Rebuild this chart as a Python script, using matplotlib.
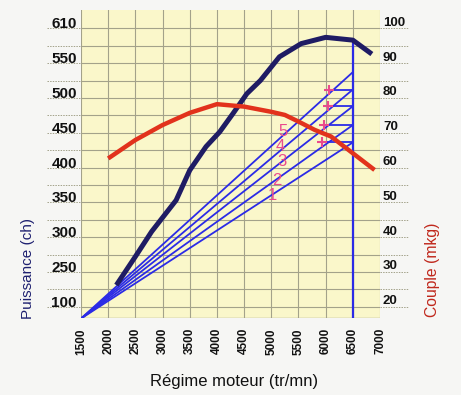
import numpy as np
import matplotlib
matplotlib.use('Agg')
import matplotlib.pyplot as plt
from matplotlib import transforms as mtransforms

plt.rcParams['font.family'] = ['Liberation Sans', 'DejaVu Sans']

# ---------------- data ----------------
x_ticks = [1500, 2000, 2500, 3000, 3500, 4000, 4500, 5000, 5500, 6000, 6500, 7000]

power_rpm = [2150, 2500, 2800, 3250, 3500, 3800, 4050, 4300, 4550, 4800, 5150, 5550, 6000, 6500, 6850]
power_ch = [231, 272, 308, 353, 396, 430, 451, 478, 506, 525, 559, 578, 587, 583, 563]

torque_rpm = [2000, 2500, 3000, 3500, 4000, 4500, 5000, 5250, 5500, 5800, 6100, 6500, 6900]
torque_mkg = [62.6, 67.9, 72.2, 75.7, 78.2, 77.5, 76.0, 75.1, 73.2, 70.8, 68.9, 64.1, 59.3]

gears = ['1', '2', '3', '4', '5']
gear_start_rpm = 1500
gear_start_ch = 183
gear_end_rpm = 6500
gear_end_ch = [436, 461, 488, 512, 537]
shift_rpm = [5930, 5965, 6035, 6055]          # '+' marks (upshift 1>2 ... 4>5)
gear_label_rpm = [5013, 5105, 5198, 5167, 5222]
gear_label_ch = [360, 382, 408, 430, 452]

power_tick_pos = [600, 550, 500, 450, 400, 350, 300, 250, 200]
power_tick_labels = ['610', '550', '500', '450', '400', '350', '300', '250', '100']
torque_ticks = [100, 90, 80, 70, 60, 50, 40, 30, 20]

# ---------------- styling ----------------
bg = '#f6f6f4'
plot_bg = '#faf7ca'
grid_c = '#a3a28a'
navy = '#1f1c64'
red = '#e2321c'
blue = '#2b2be6'
pink = '#ea4a8c'

fig = plt.figure(figsize=(4.61, 3.95), dpi=100, facecolor=bg)
ax = fig.add_axes([0.1757, 0.1941, 0.6486, 0.7806])
ax.set_facecolor(plot_bg)

ch_lo, ch_hi = 183.3, 626.3
ax.set_xlim(1500, 7000)
ax.set_ylim(ch_lo, ch_hi)
ax2 = ax.twinx()
ax2.set_ylim((ch_lo - 100) / 5, (ch_hi - 100) / 5)

for a in (ax, ax2):
    for s in a.spines.values():
        s.set_visible(False)
    a.set_yticks([])
ax.tick_params(axis='x', length=0, pad=7)

# grid
for xv in x_ticks:
    ax.axvline(xv, color=grid_c, lw=0.8, zorder=1)
grid_levels = np.arange(200, 601, 25)
for yv in grid_levels:
    ax.axhline(yv, color=grid_c, lw=0.8, zorder=1)
ax.axhline(ch_lo, color=grid_c, lw=1.0, zorder=1)

blend = mtransforms.blended_transform_factory(ax.transAxes, ax.transData)
for yv in grid_levels:
    ax.plot([-0.115, 0], [yv, yv], transform=blend, clip_on=False,
            color=grid_c, lw=0.7, ls=(0, (1.5, 1.2)), zorder=1)
    ax.plot([1.0, 1.095], [yv, yv], transform=blend, clip_on=False,
            color=grid_c, lw=0.7, ls=(0, (1.5, 1.2)), zorder=1)

# tick labels
ax.set_xticks(x_ticks)
ax.set_xticklabels([str(v) for v in x_ticks], rotation=90, fontsize=8.5,
                   fontweight='bold', color='#111111')
for pos, lab in zip(power_tick_pos, power_tick_labels):
    ax.text(-0.014, pos, lab, transform=blend, ha='right', va='baseline',
            fontsize=11, fontweight='bold', color='#111111')
blend2 = mtransforms.blended_transform_factory(ax2.transAxes, ax2.transData)
off2 = mtransforms.offset_copy(blend2, fig=fig, y=2.5, units='dots')
for v in torque_ticks:
    ax2.text(1.01, v, str(v), transform=off2, ha='left', va='baseline',
             fontsize=9.5, fontweight='bold', color='#111111')

# gear fan lines
for end in gear_end_ch:
    ax.plot([gear_start_rpm, gear_end_rpm], [gear_start_ch, end], color=blue,
            lw=1.3, zorder=3, solid_capstyle='round')
# shift lines and marks
for k, sr in enumerate(shift_rpm):
    ax.plot([sr, gear_end_rpm], [gear_end_ch[k], gear_end_ch[k]], color=blue,
            lw=1.3, zorder=3)
    ax.plot(sr, gear_end_ch[k], marker='+', ms=7, mew=1.5, color=pink, zorder=6)
# vertical red-line
p6500 = np.interp(gear_end_rpm, power_rpm, power_ch)
ax.plot([gear_end_rpm, gear_end_rpm], [ch_lo, p6500], color=blue, lw=1.6, zorder=3)

# gear numbers
for g, gx, gy in zip(gears, gear_label_rpm, gear_label_ch):
    ax.text(gx, gy, g, color=pink, fontsize=12, ha='center', va='center', zorder=6)

# curves
ax.plot(power_rpm, power_ch, color=navy, lw=3.6, zorder=5, solid_capstyle='butt')
ax2.plot(torque_rpm, torque_mkg, color=red, lw=3.2, zorder=4, solid_capstyle='butt')

# axis titles
fig.text(0.0607, 0.319, 'Puissance (ch)', rotation=90, ha='center', va='center',
         fontsize=11, color='#1e2070')
fig.text(0.939, 0.316, 'Couple (mkg)', rotation=90, ha='center', va='center',
         fontsize=11.3, color='#c0281c')
fig.text(0.5087, 0.033, 'Régime moteur (tr/mn)', ha='center', va='center',
         fontsize=12, color='#111111')

fig.savefig('out.png', dpi=100, facecolor=bg)
